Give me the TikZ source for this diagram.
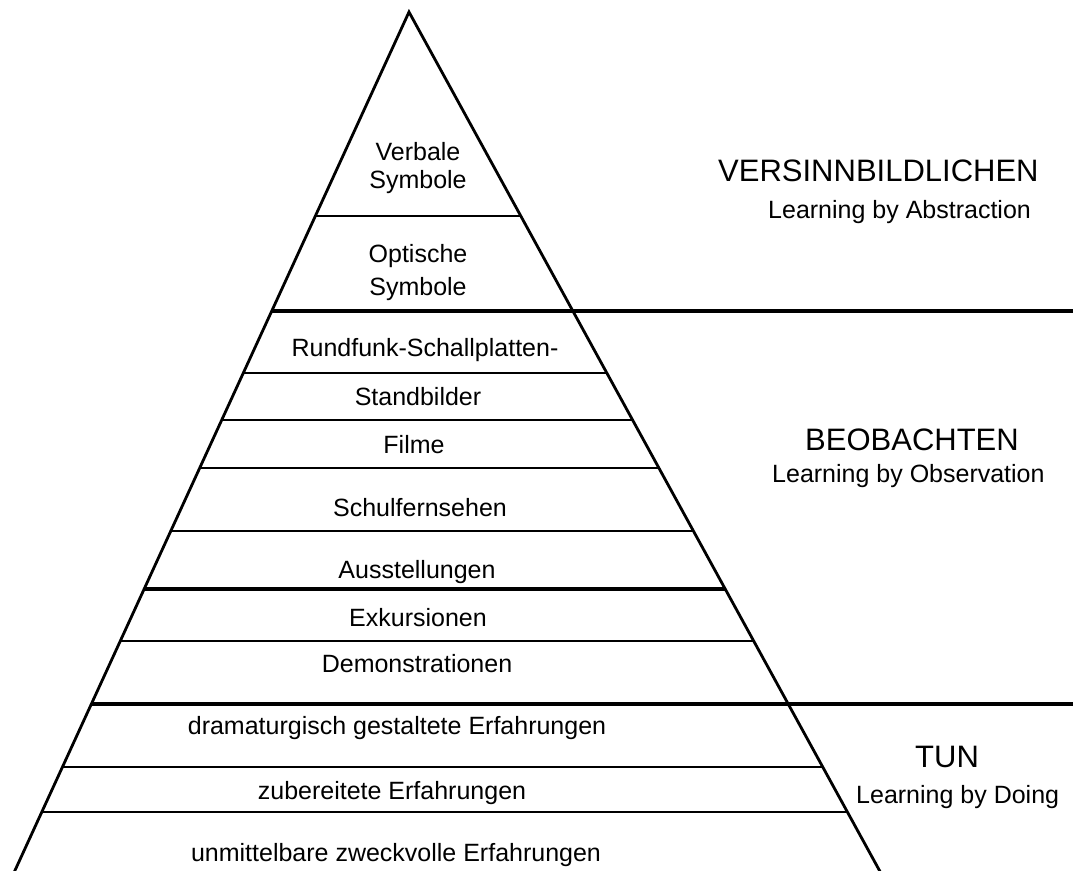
\documentclass[tikz,border=0pt]{standalone}
\usepackage{fontspec}
\setmainfont{Liberation Sans}
\begin{document}
\begin{tikzpicture}[x=1pt,y=-1pt,
  edge/.style={line width=2.8pt,line join=miter},
  thinrule/.style={line width=2.2pt},
  thickrule/.style={line width=4pt},
  lbl/.style={font=\fontsize{25}{33}\selectfont,inner sep=0pt,align=center},
  head/.style={font=\fontsize{31}{36}\selectfont,inner sep=0pt,anchor=west},
  sub/.style={font=\fontsize{25}{30}\selectfont,inner sep=0pt,anchor=west}]
\useasboundingbox (0,0) rectangle (1073,870);
\clip (0,0) rectangle (1073,870);
\fill[white] (0,0) rectangle (1073,870);

% pyramid outline
\coordinate (apex) at (409,12);
\coordinate (bl) at ({409-0.459*868},880);
\coordinate (br) at ({409+0.548*868},880);
\draw[edge] (bl) -- (apex) -- (br);

% level separators inside the pyramid
\foreach \y/\s in {216/thinrule,373/thinrule,420/thinrule,468/thinrule,
                   531/thinrule,589/thickrule,641/thinrule,767/thinrule,812/thinrule}
  \draw[\s] ({409-0.459*(\y-12)},\y) -- ({409+0.548*(\y-12)},\y);

% group separators running out to the right margin
\foreach \y in {311,704}
  \draw[thickrule] ({409-0.459*(\y-12)},\y) -- (1073,\y);

% level labels
\node[lbl,font=\fontsize{25}{28}\selectfont] (verb) at (418,168) {Verbale\\Symbole};
\node[lbl] (opt)  at (418,273) {Optische\\Symbole};
\node[lbl] (rund) at (425,350) {Rundfunk-Schallplatten-};
\node[lbl] (stand) at (418,397) {Standbilder};
\node[lbl] (film) at (414,445) {Filme};
\node[lbl] (schul) at (420,508) {Schulfernsehen};
\node[lbl] (auss) at (417,572) {Ausstellungen};
\node[lbl] (exk) at (418,618) {Exkursionen};
\node[lbl] (demo) at (417,664) {Demonstrationen};
\node[lbl] (dram) at (397,728) {dramaturgisch gestaltete Erfahrungen};
\node[lbl] (zub) at (392,793) {zubereitete Erfahrungen};
\node[lbl] (unm) at (396,855) {unmittelbare zweckvolle Erfahrungen};

% group headings
\node[head] (vers) at (718,171) {VERSINNBILDLICHEN};
\node[sub] (abs) at (768,212) {Learning by Abstraction};
\node[head] (beob) at (805,440) {BEOBACHTEN};
\node[sub] (obs) at (772,476) {Learning by Observation};
\node[head] (tun) at (915,757) {TUN};
\node[sub] (doing) at (856,797) {Learning by Doing};
\end{tikzpicture}
\end{document}
